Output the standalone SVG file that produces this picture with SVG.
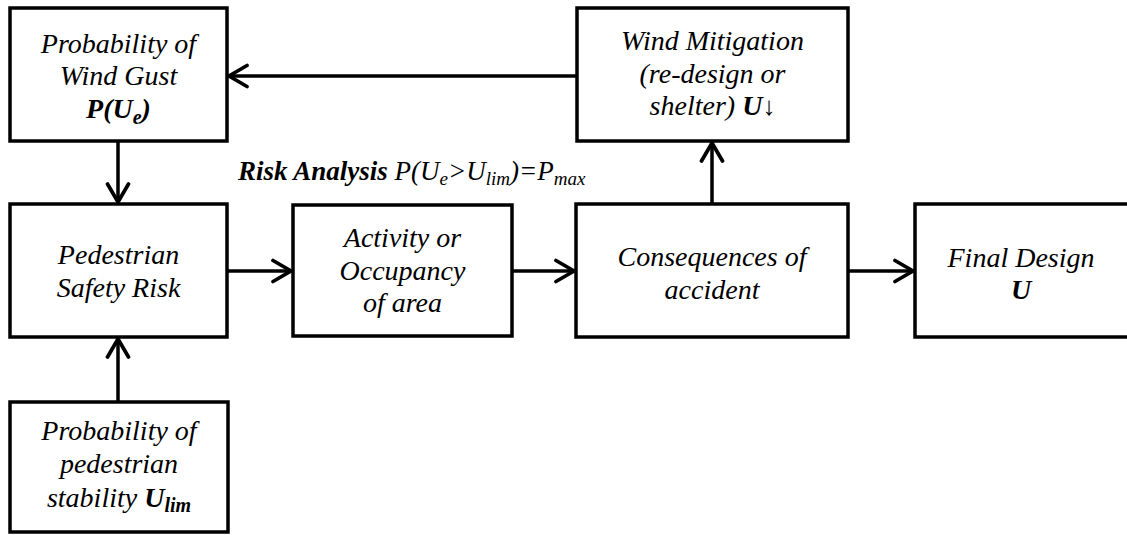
<svg xmlns="http://www.w3.org/2000/svg" width="1127" height="535" viewBox="0 0 1127 535">
<style>
.box{fill:#fff;stroke:#000;stroke-width:3.5}
text{font-family:'Liberation Serif','Times New Roman',serif}
.t{font-style:italic;font-size:28px;fill:#000;text-anchor:middle}
.b{font-weight:bold}
.sub{font-size:20px}
.lbl{font-style:italic;font-size:27px;fill:#000}
.c{stroke:#000;stroke-width:3.5;fill:none}
</style>
<defs>
<marker id="ah" markerUnits="userSpaceOnUse" viewBox="-22 -13 26 26" refX="0" refY="0" markerWidth="26" markerHeight="26" orient="auto">
<path d="M-18,-10.5 L0,0 L-18,10.5" fill="none" stroke="#000" stroke-width="3.7" stroke-linecap="round"/>
</marker>
</defs>
<rect width="1127" height="535" fill="#fff"/>
<g id="connectors">
<line class="c" x1="577" y1="76" x2="229" y2="76" marker-end="url(#ah)"/>
<line class="c" x1="118" y1="141" x2="118" y2="202" marker-end="url(#ah)"/>
<line class="c" x1="118" y1="402" x2="118" y2="339" marker-end="url(#ah)"/>
<line class="c" x1="227" y1="271" x2="291" y2="271" marker-end="url(#ah)"/>
<line class="c" x1="512" y1="271" x2="574" y2="271" marker-end="url(#ah)"/>
<line class="c" x1="848" y1="271" x2="913" y2="271" marker-end="url(#ah)"/>
<line class="c" x1="712" y1="204" x2="712" y2="143" marker-end="url(#ah)"/>
</g>
<g id="wind-gust">
<rect class="box" x="10" y="8" width="217" height="133"/>
<text class="t" x="118.5" y="53">Probability of</text>
<text class="t" x="118.5" y="85">Wind Gust</text>
<text class="t b" x="118.5" y="118">P(U<tspan class="sub" dy="6">e</tspan><tspan dy="-6">)</tspan></text>
</g>
<g id="wind-mitigation">
<rect class="box" x="577" y="8" width="271" height="133"/>
<text class="t" x="712.5" y="50">Wind Mitigation</text>
<text class="t" x="712.5" y="83">(re-design or</text>
<text class="t" x="712.5" y="115">shelter) <tspan class="b">U</tspan><tspan font-style="normal" font-size="26">↓</tspan></text>
</g>
<g id="pedestrian-risk">
<rect class="box" x="10" y="204" width="217" height="133"/>
<text class="t" x="118.5" y="264">Pedestrian</text>
<text class="t" x="118.5" y="297">Safety Risk</text>
</g>
<g id="activity">
<rect class="box" x="293" y="205" width="219" height="131"/>
<text class="t" x="402.5" y="247">Activity or</text>
<text class="t" x="402.5" y="280">Occupancy</text>
<text class="t" x="402.5" y="312">of area</text>
</g>
<g id="consequences">
<rect class="box" x="576" y="204" width="272" height="133"/>
<text class="t" x="712" y="266">Consequences of</text>
<text class="t" x="712" y="299">accident</text>
</g>
<g id="final-design">
<rect class="box" x="915" y="204" width="214" height="133"/>
<text class="t" x="1021" y="267">Final Design</text>
<text class="t b" x="1021" y="299">U</text>
</g>
<g id="pedestrian-stability">
<rect class="box" x="10" y="402" width="218" height="130"/>
<text class="t" x="119" y="440">Probability of</text>
<text class="t" x="119" y="473">pedestrian</text>
<text class="t" x="119" y="507">stability <tspan class="b">U<tspan class="sub" dy="5">lim</tspan></tspan></text>
</g>
<g id="risk-label">
<text class="lbl" x="238" y="180"><tspan class="b">Risk Analysis</tspan> P(U<tspan font-size="19" dy="5">e</tspan><tspan dy="-5">&gt;U</tspan><tspan font-size="19" dy="5">lim</tspan><tspan dy="-5">)=P</tspan><tspan font-size="19" dy="5">max</tspan></text>
</g>
</svg>
